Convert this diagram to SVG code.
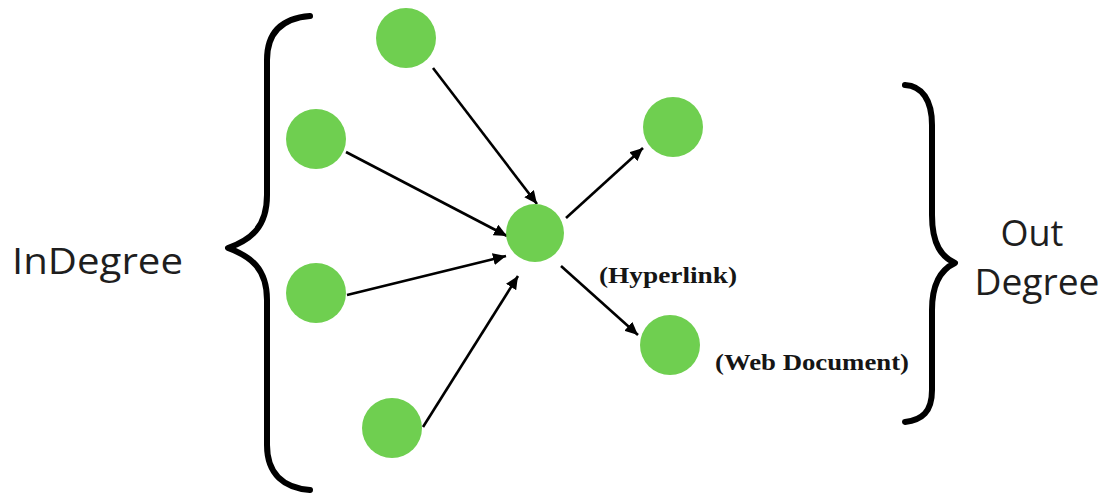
<svg xmlns="http://www.w3.org/2000/svg" width="1114" height="494" viewBox="0 0 1114 494">
<defs>
<style>
.node{fill:#6fcf50}
.edge{stroke:#000;stroke-width:2.6;fill:none;marker-end:url(#ah)}
.brace{stroke:#000;stroke-width:6;fill:none;stroke-linecap:round;stroke-linejoin:round}
.sans{font-family:"Open Sans","Noto Sans","Liberation Sans",sans-serif;fill:#1e1e1e;font-size:36px}
.serif{font-family:"Liberation Serif","Times New Roman",serif;font-weight:bold;fill:#151515;font-size:24px}
</style>
<marker id="ah" markerUnits="userSpaceOnUse" markerWidth="14" markerHeight="12" refX="13" refY="6" orient="auto">
<path d="M0,0 L13,6 L0,12 Z" fill="#000"/>
</marker>
</defs>
<rect width="1114" height="494" fill="#fff"/>
<g id="braces">
<path class="brace" d="M310,16 C285,18 267,30 267,60 L267,195 C267,228 250,240 228,248 C250,256 267,268 267,300 L267,445 C267,475 285,488 310,490"/>
<path class="brace" d="M905,85 C922,86 932,100 932,125 L932,215 C932,245 942,257 955,263 C942,269 932,282 932,310 L932,390 C932,412 922,420 905,422"/>
</g>
<g id="connectors">
<line class="edge" x1="433" y1="68" x2="537" y2="204"/>
<line class="edge" x1="346" y1="152" x2="507" y2="236"/>
<line class="edge" x1="347" y1="295" x2="506" y2="256"/>
<line class="edge" x1="423" y1="427" x2="518" y2="276"/>
<line class="edge" x1="566" y1="218" x2="643" y2="148"/>
<line class="edge" x1="561" y1="266" x2="638" y2="335"/>
</g>
<g id="n-top"><circle class="node" cx="406" cy="38" r="30"/></g>
<g id="n-left-upper"><circle class="node" cx="316" cy="139" r="30"/></g>
<g id="n-left-lower"><circle class="node" cx="316" cy="293" r="30"/></g>
<g id="n-bottom"><circle class="node" cx="392" cy="428" r="30"/></g>
<g id="n-center"><circle class="node" cx="535" cy="233" r="29"/></g>
<g id="n-right-top"><circle class="node" cx="673" cy="127" r="30"/></g>
<g id="n-right-bottom"><circle class="node" cx="670" cy="345" r="30"/></g>
<g id="labels">
<text class="sans" x="12" y="274" textLength="171" lengthAdjust="spacingAndGlyphs">InDegree</text>
<text class="sans" x="1032" y="246" text-anchor="middle">Out</text>
<text class="sans" x="1037" y="295" text-anchor="middle" textLength="125" lengthAdjust="spacingAndGlyphs">Degree</text>
<text class="serif" x="599" y="283" textLength="138" lengthAdjust="spacingAndGlyphs">(Hyperlink)</text>
<text class="serif" x="715" y="370" textLength="194" lengthAdjust="spacingAndGlyphs">(Web Document)</text>
</g>
</svg>
